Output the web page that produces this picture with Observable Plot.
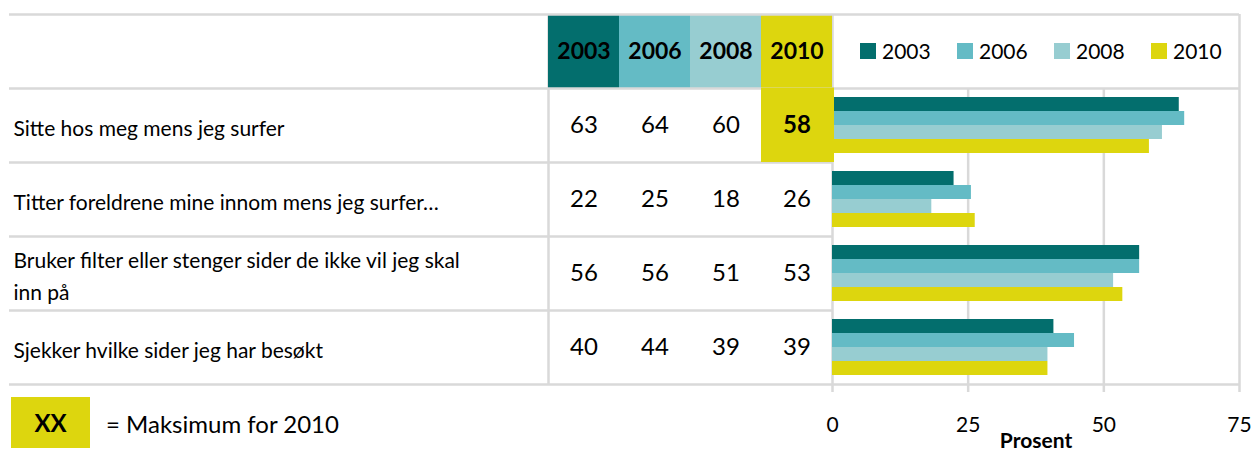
<!DOCTYPE html>
<html><head><meta charset="utf-8">
<script src="https://cdn.jsdelivr.net/npm/d3@7"></script>
<script src="https://cdn.jsdelivr.net/npm/@observablehq/plot@0.6"></script>
<style>
html,body{margin:0;padding:0;background:#fff;}
#chart{position:relative;width:1257px;height:453px;font-family:Lato,sans-serif;overflow:hidden;background:#fff;}
.legwrap{position:absolute;left:860px;top:34px;}
.legwrap span{margin-right:0 !important;width:97px;}
.legwrap span svg{margin-right:6px !important;}
.maxbox{position:absolute;left:11px;top:397px;width:79px;height:51px;background:#ddd60e;display:flex;align-items:center;justify-content:center;font:bold 24px Lato,sans-serif;color:#000;}
.maxtext{position:absolute;left:106px;top:409px;font:24px Lato,sans-serif;color:#000;white-space:nowrap;}
</style>
</head><body>
<div id="chart"></div>
<script>
const categories = [
  "Sitte hos meg mens jeg surfer",
  "Titter foreldrene mine innom mens jeg surfer…",
  "Bruker filter eller stenger sider de ikke vil jeg skal\ninn på",
  "Sjekker hvilke sider jeg har besøkt"
];
const years = ["2003", "2006", "2008", "2010"];
const colors = ["#036e6d", "#64bbc5", "#97cdd1", "#ddd60e"];
// table values (printed)
const table2003 = [63, 22, 56, 40];
const table2006 = [64, 25, 56, 44];
const table2008 = [60, 18, 51, 39];
const table2010 = [58, 26, 53, 39];
// bar lengths
const bar2003 = [63.9, 22.4, 56.6, 40.8];
const bar2006 = [64.9, 25.6, 56.6, 44.6];
const bar2008 = [60.8, 18.3, 51.8, 39.7];
const bar2010 = [58.4, 26.3, 53.5, 39.7];
const xDomain = [0, 75];
const xTicks = [0, 25, 50, 75];
const maxLabel = "= Maksimum for 2010";
const axisLabel = "Prosent";

const lineColor = "#d9d9d9";
const lineW = 2.5;
const W = 1257, H = 453;
const base = {position: "absolute", left: "0px", top: "0px", background: "transparent", fontFamily: "Lato, sans-serif", color: "#000", overflow: "visible"};

const tableCols = [table2003, table2006, table2008, table2010];
const barCols = [bar2003, bar2006, bar2008, bar2010];
const tableData = categories.flatMap((c, i) => years.map((y, j) => ({category: c, row: i, year: y, value: tableCols[j][i]})));
const barData = categories.flatMap((c, i) => years.map((y, j) => ({category: c, row: i, year: y, value: barCols[j][i]})));
const maxRow = d3.maxIndex(table2010);
const isMax = d => d.year === years[years.length - 1] && d.row === maxRow;
const nRows = categories.length + 1;
const rowEdges = d3.range(nRows + 1);

const chart = document.getElementById("chart");

// grid / frame of the bar area
const G = Plot.plot({
  width: W, height: H, marginLeft: 832, marginRight: 18, marginTop: 14, marginBottom: 69,
  style: base,
  x: {domain: xDomain, axis: null},
  y: {domain: [0, nRows], reverse: true, axis: null},
  marks: [
    Plot.ruleX(xTicks, {x: d => d, y1: d => (d === xDomain[0] || d === xDomain[1]) ? 0 : 1, y2: nRows, insetBottom: -8, stroke: lineColor, strokeWidth: lineW}),
    Plot.ruleY([0, 1, nRows], {stroke: lineColor, strokeWidth: lineW}),
    Plot.text([axisLabel], {x: d3.mean(xDomain), y: nRows, dy: 57, fontWeight: "bold", fontSize: 21, fill: "#000"})
  ]
});

// bars
const B = Plot.plot({
  width: W, height: H, marginLeft: 832, marginRight: 18, marginTop: 88, marginBottom: 69,
  style: {...base, fontSize: "21px"},
  x: {domain: xDomain, ticks: xTicks, tickSize: 0, tickPadding: 33, label: null},
  y: {domain: years, axis: null, paddingInner: 0, paddingOuter: 0.62},
  fy: {domain: categories, axis: null, padding: 0},
  facet: {data: barData, y: "category"},
  color: {domain: years, range: colors},
  marks: [
    Plot.barX(barData, {x: "value", y: "year", fill: "year"})
  ]
});

// label column
const L = Plot.plot({
  width: W, height: H, marginLeft: 9, marginRight: 709, marginTop: 14, marginBottom: 69,
  style: base,
  x: {domain: [0, 1], axis: null},
  y: {domain: [0, nRows], reverse: true, axis: null},
  marks: [
    Plot.ruleY(rowEdges, {stroke: lineColor, strokeWidth: lineW}),
    Plot.ruleX([1], {y1: 0, y2: nRows, stroke: lineColor, strokeWidth: lineW}),
    Plot.text(categories, {x: 0, y: (d, i) => i + 1.5, textAnchor: "start", dx: 4, fontSize: 21, lineHeight: 1.55, fill: "#000"})
  ]
});

// number table
const T = Plot.plot({
  width: W, height: H, marginLeft: 548, marginRight: 425, marginTop: 14, marginBottom: 69,
  style: base,
  x: {domain: years, padding: 0, axis: null},
  y: {domain: [0, nRows], reverse: true, axis: null},
  marks: [
    Plot.barY(years, {x: d => d, y1: 0, y2: 1, fill: (d, i) => colors[i]}),
    Plot.ruleY(rowEdges, {stroke: lineColor, strokeWidth: lineW}),
    Plot.barY(tableData.filter(isMax), {x: "year", y1: d => d.row + 1, y2: d => d.row + 2, fill: colors[3], insetTop: -0.5, insetRight: -2}),
    Plot.text(years, {x: d => d, y: 0.5, fontWeight: "bold", fontSize: 23, fill: "#000"}),
    Plot.text(tableData.filter(d => !isMax(d)), {x: "year", y: d => d.row + 1.5, text: d => String(d.value), fontSize: 24, fill: "#000"}),
    Plot.text(tableData.filter(isMax), {x: "year", y: d => d.row + 1.5, text: d => String(d.value), fontSize: 24, fontWeight: "bold", fill: "#000"})
  ]
});

chart.append(G, B, L, T);

const legWrap = document.createElement("div");
legWrap.className = "legwrap";
legWrap.append(Plot.legend({legend: "swatches", color: {domain: years, range: colors}, swatchSize: 16, style: {fontFamily: "Lato, sans-serif", fontSize: "21px", color: "#000"}}));
chart.append(legWrap);

const box = document.createElement("div");
box.className = "maxbox";
box.textContent = "XX";
const mt = document.createElement("div");
mt.className = "maxtext";
mt.textContent = maxLabel;
chart.append(box, mt);
</script>
</body></html>
